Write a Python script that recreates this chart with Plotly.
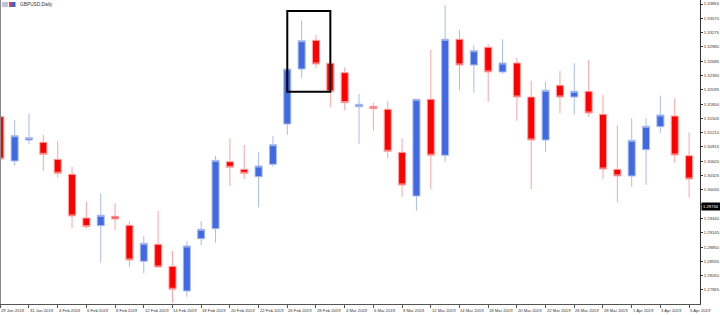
import plotly.graph_objects as go

# ---- data -------------------------------------------------------------
dates = [
    "2019-01-29", "2019-01-30", "2019-01-31",
    "2019-02-01", "2019-02-04", "2019-02-05", "2019-02-06", "2019-02-07",
    "2019-02-08", "2019-02-11", "2019-02-12", "2019-02-13", "2019-02-14",
    "2019-02-15", "2019-02-18", "2019-02-19", "2019-02-20", "2019-02-21",
    "2019-02-22", "2019-02-25", "2019-02-26", "2019-02-27", "2019-02-28",
    "2019-03-01", "2019-03-04", "2019-03-05", "2019-03-06", "2019-03-07",
    "2019-03-08", "2019-03-11", "2019-03-12", "2019-03-13", "2019-03-14",
    "2019-03-15", "2019-03-18", "2019-03-19", "2019-03-20", "2019-03-21",
    "2019-03-22", "2019-03-25", "2019-03-26", "2019-03-27", "2019-03-28",
    "2019-03-29", "2019-04-01", "2019-04-02", "2019-04-03", "2019-04-04",
    "2019-04-05",
]

open_ = [
    1.31540, 1.30626, 1.31059, 1.31012, 1.30661, 1.30352, 1.29450, 1.29291,
    1.29485, 1.29299, 1.28557, 1.28907, 1.28453, 1.27944, 1.29023, 1.29229,
    1.30611, 1.30455, 1.30302, 1.30558, 1.31389, 1.32524, 1.33116, 1.32642,
    1.32448, 1.31746, 1.31754, 1.31693, 1.30805, 1.29904, 1.31899, 1.30744,
    1.33137, 1.32607, 1.32972, 1.32462, 1.32648, 1.31946, 1.31059, 1.32188,
    1.31946, 1.32064, 1.31589, 1.30455, 1.30317, 1.30859, 1.31334, 1.31554,
    1.30735,
]
high = [
    1.31637, 1.31472, 1.31610, 1.31162, 1.31039, 1.30508, 1.29786, 1.29960,
    1.29753, 1.29388, 1.29085, 1.29594, 1.28769, 1.28976, 1.29388, 1.30735,
    1.31094, 1.30956, 1.30805, 1.31148, 1.32545, 1.33520, 1.33225, 1.32668,
    1.32559, 1.32008, 1.31829, 1.31864, 1.31094, 1.31905, 1.32916, 1.33844,
    1.33329, 1.33019, 1.33034, 1.33137, 1.32757, 1.32283, 1.32256, 1.32483,
    1.32642, 1.32710, 1.31988, 1.31363, 1.31507, 1.31507, 1.31973, 1.31920,
    1.31218,
]
low = [
    1.30605, 1.30529, 1.30977, 1.30426, 1.30281, 1.29238, 1.29238, 1.28528,
    1.29202, 1.28433, 1.28309, 1.28429, 1.27703, 1.27826, 1.28893, 1.28940,
    1.30116, 1.30255, 1.29671, 1.30508, 1.31162, 1.32338, 1.32538, 1.31734,
    1.31678, 1.30977, 1.31251, 1.30682, 1.29889, 1.29601, 1.30042, 1.30611,
    1.32091, 1.32035, 1.31849, 1.32421, 1.31457, 1.30042, 1.30812, 1.31610,
    1.31581, 1.31540, 1.30255, 1.29774, 1.30096, 1.30131, 1.31210, 1.30591,
    1.29869,
]
close = [
    1.30667, 1.31148, 1.31111, 1.30764, 1.30372, 1.29491, 1.29271, 1.29506,
    1.29429, 1.28584, 1.28928, 1.28439, 1.27979, 1.28872, 1.29217, 1.30640,
    1.30496, 1.30372, 1.30523, 1.30962, 1.32524, 1.33108, 1.32627, 1.32056,
    1.31829, 1.31796, 1.31705, 1.30826, 1.30131, 1.31899, 1.30744, 1.33137,
    1.32607, 1.32902, 1.32462, 1.32648, 1.31946, 1.31059, 1.32085, 1.31946,
    1.32064, 1.31616, 1.30461, 1.30317, 1.31053, 1.31342, 1.31575, 1.30750,
    1.30255,
]

price_ticks = [
    1.27965, 1.28260, 1.28555, 1.28850, 1.29145, 1.29440, 1.29734, 1.30030,
    1.30325, 1.30620, 1.30915, 1.31210, 1.31505, 1.31800, 1.32095, 1.32390,
    1.32685, 1.32980, 1.33275, 1.33570, 1.33865,
]
current_price = 1.29734

date_labels = [
    "29 Jan 2019", "31 Jan 2019", "4 Feb 2019", "6 Feb 2019", "8 Feb 2019",
    "12 Feb 2019", "14 Feb 2019", "18 Feb 2019", "20 Feb 2019", "22 Feb 2019",
    "26 Feb 2019", "28 Feb 2019", "4 Mar 2019", "6 Mar 2019", "8 Mar 2019",
    "12 Mar 2019", "14 Mar 2019", "18 Mar 2019", "20 Mar 2019", "22 Mar 2019",
    "26 Mar 2019", "28 Mar 2019", "1 Apr 2019", "3 Apr 2019", "5 Apr 2019",
]
label_dates = dates[::2]

# highlight box: from candle index 20 to 23, price span
box_idx = (20, 23)
box_price = (1.32056, 1.33721)

title_text = "GBPUSD,Daily"

# ---- figure -----------------------------------------------------------
FONT = "Liberation Sans"
FS = 4.2
fig = go.Figure()
fig.add_trace(go.Candlestick(
    x=dates, open=open_, high=high, low=low, close=close,
    increasing=dict(fillcolor="#4169E1", line=dict(color="#a9bcf2", width=1)),
    decreasing=dict(fillcolor="#FF0000", line=dict(color="#ffa3a3", width=1)),
    whiskerwidth=0,
    showlegend=False,
    hoverinfo="skip",
))

tick_text = ["" if abs(v - current_price) < 1e-9 else f"{v:.5f}" for v in price_ticks]

fig.update_layout(
    width=720, height=315,
    margin=dict(l=0, r=20, t=0, b=11, pad=0),
    paper_bgcolor="white", plot_bgcolor="white",
    showlegend=False,
    xaxis=dict(
        type="category", categoryorder="array", categoryarray=dates,
        range=[-0.02, 48.76],
        rangeslider=dict(visible=False),
        showgrid=False, zeroline=False,
        showline=True, linecolor="#555555", linewidth=1,
        ticks="outside", ticklen=3, tickcolor="#555555", tickwidth=1,
        tickmode="array", tickvals=label_dates,
        showticklabels=False,
        fixedrange=True,
    ),
    yaxis=dict(
        side="right",
        range=[1.276756, 1.339475],
        showgrid=False, zeroline=False,
        showline=True, linecolor="#333333", linewidth=1,
        ticks="outside", ticklen=2, tickcolor="#333333", tickwidth=1,
        tickmode="array", tickvals=price_ticks, ticktext=tick_text,
        tickfont=dict(family=FONT, size=FS, color="#333333"),
        ticklabelstandoff=0,
        automargin=False,
        fixedrange=True,
    ),
)

annotations = []
for d, t in zip(label_dates, date_labels):
    annotations.append(dict(
        x=d, xref="x", y=0, yref="paper", yanchor="top", xanchor="left",
        text=t, showarrow=False, borderpad=0, yshift=-3, xshift=0,
        font=dict(family=FONT, size=FS, color="#333333"),
    ))
annotations.append(dict(
    x=1, xref="paper", y=current_price, yref="y", xanchor="left", yanchor="middle",
    text=f"{current_price:.5f}", showarrow=False, bgcolor="#000000", borderpad=1,
    xshift=1, yshift=-2,
    font=dict(family=FONT, size=FS, color="#ffffff"),
))
annotations.append(dict(
    x=19 / 700, xref="paper", y=1 - 4.5 / 304, yref="paper",
    xanchor="left", yanchor="middle", text=title_text, showarrow=False,
    borderpad=0, font=dict(family=FONT, size=4.8, color="#333333"),
))
fig.update_layout(annotations=annotations)

shapes = [
    # left frame line
    dict(type="line", xref="paper", yref="paper", x0=0, x1=0, y0=0, y1=1,
         line=dict(color="#8a8a8a", width=2)),
    # highlight rectangle
    dict(type="rect", xref="x", yref="y",
         x0=box_idx[0], x1=box_idx[1], y0=box_price[0], y1=box_price[1],
         line=dict(color="#000000", width=2), fillcolor="rgba(0,0,0,0)"),
    # title icon
    dict(type="rect", xref="paper", yref="paper",
         x0=2 / 700, x1=8 / 700, y0=1 - 7 / 304, y1=1 - 2 / 304,
         line=dict(width=0), fillcolor="#b9c6e0"),
    dict(type="rect", xref="paper", yref="paper",
         x0=9 / 700, x1=12 / 700, y0=1 - 7 / 304, y1=1 - 2 / 304,
         line=dict(width=0), fillcolor="#e83a3a"),
    dict(type="rect", xref="paper", yref="paper",
         x0=12 / 700, x1=15.5 / 700, y0=1 - 7 / 304, y1=1 - 2 / 304,
         line=dict(width=0), fillcolor="#3d62d8"),
]
fig.update_layout(shapes=shapes)

fig.write_html("out.html")
